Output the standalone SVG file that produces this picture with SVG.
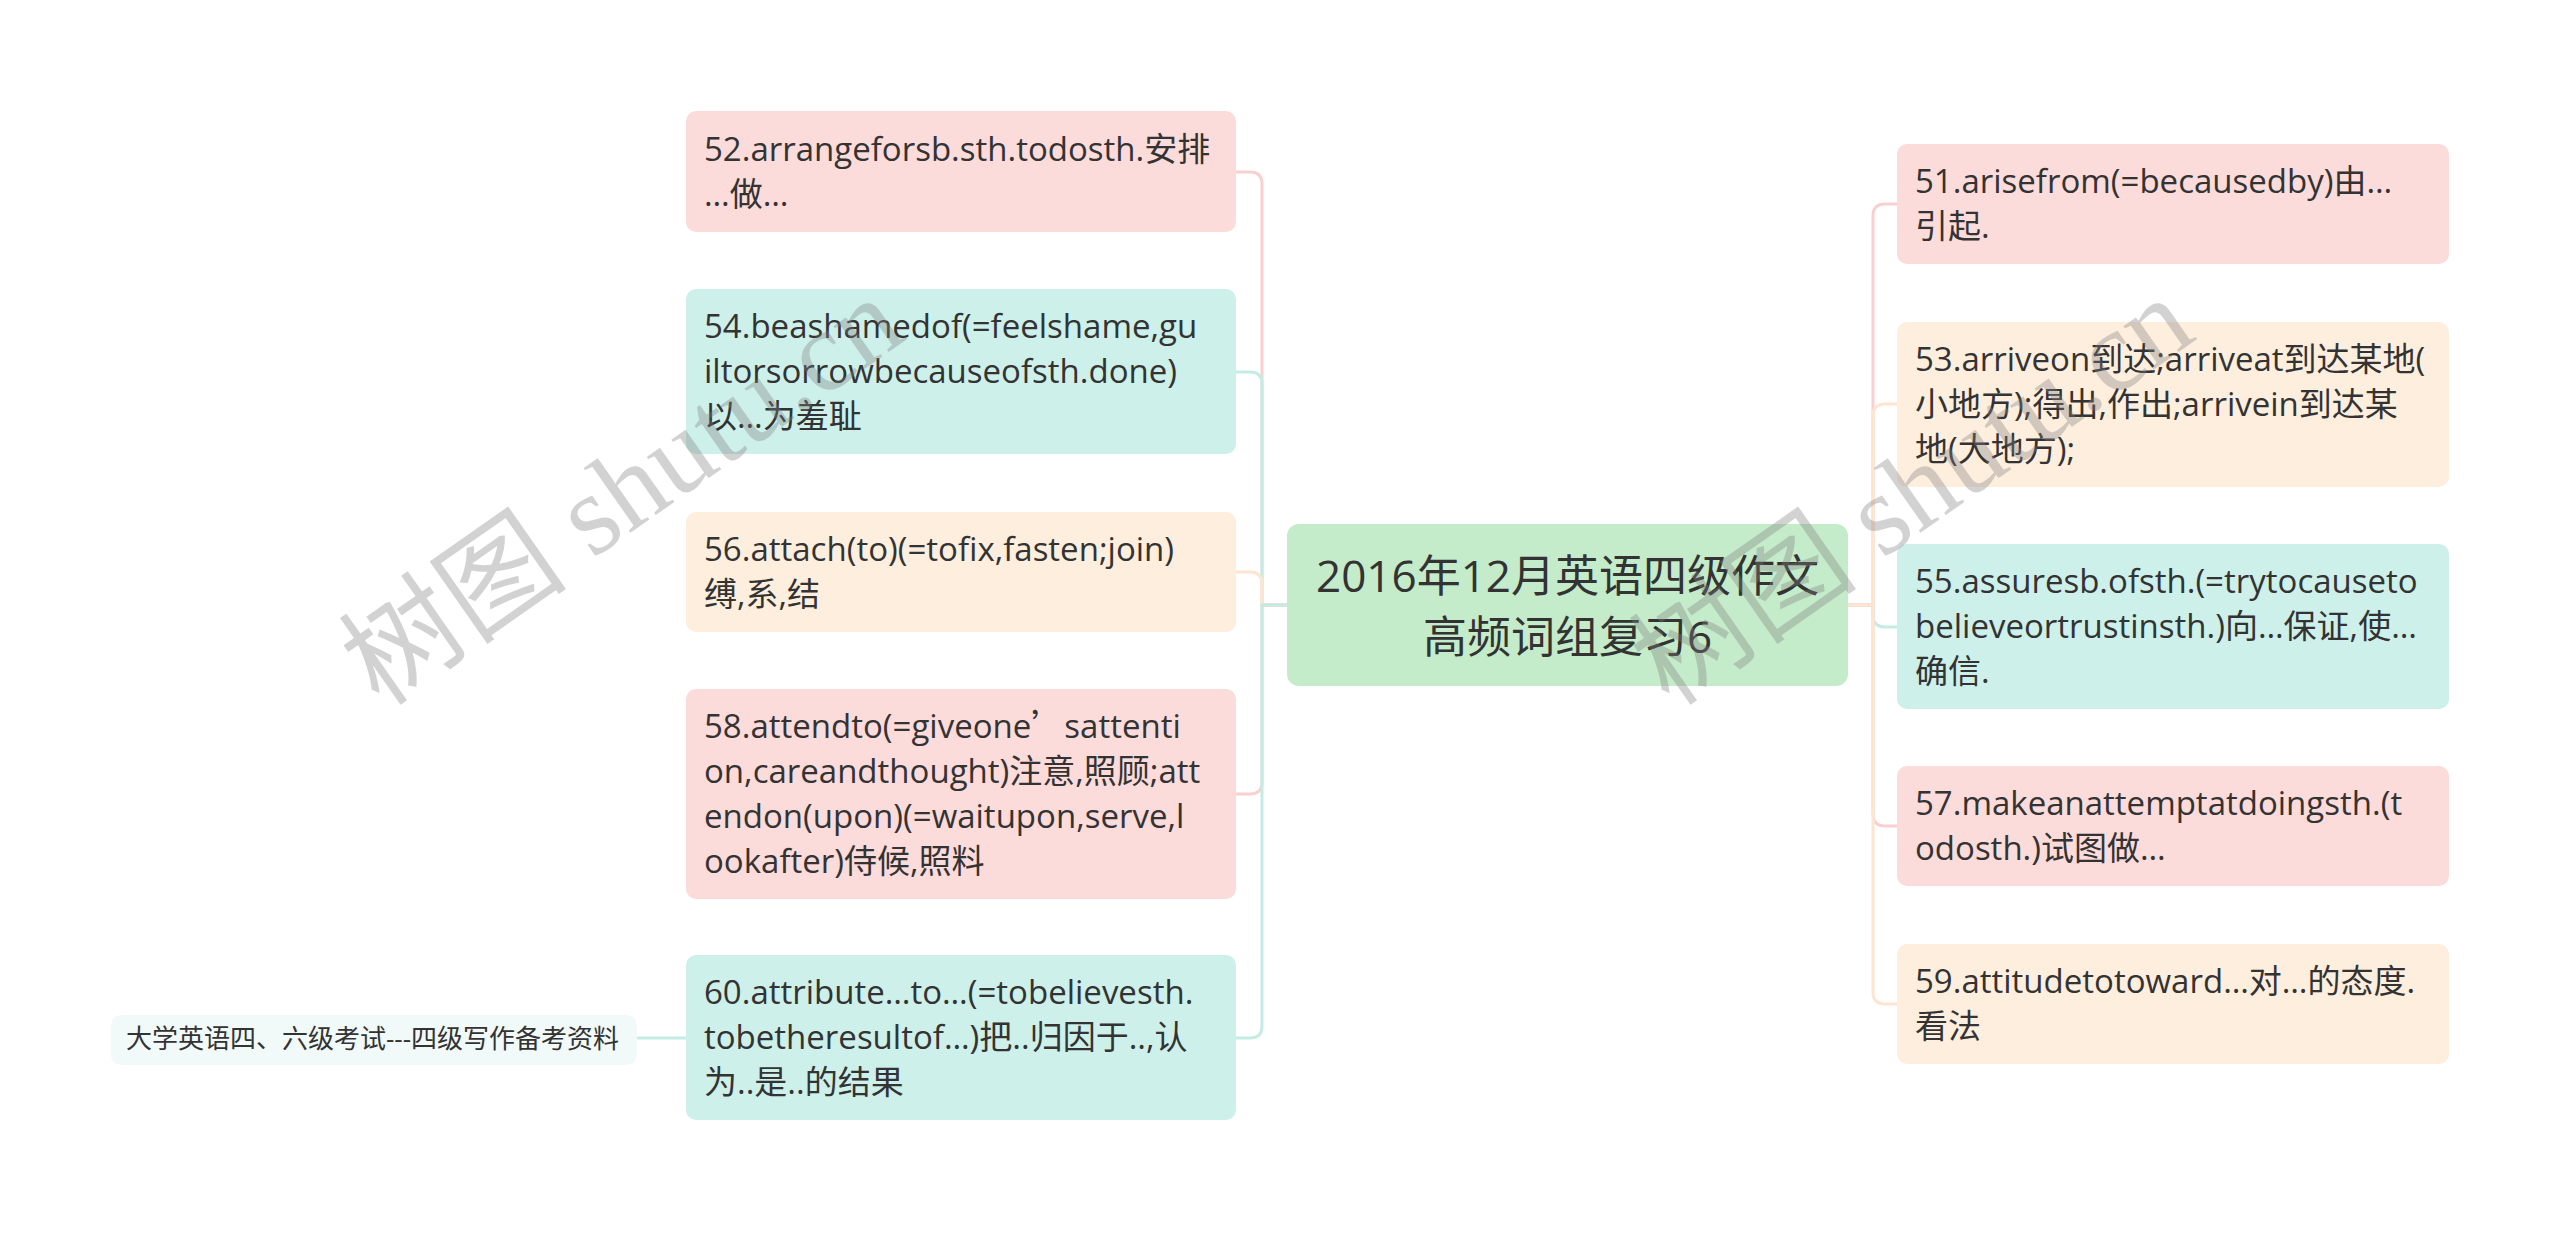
<svg xmlns="http://www.w3.org/2000/svg" width="2560" height="1233" viewBox="0 0 2560 1233">
<style>
.t{font-family:"Open Sans","Noto Sans CJK SC",sans-serif;font-size:33px;fill:#333333}
.tc{font-family:"Open Sans","Noto Sans CJK SC",sans-serif;font-size:44px;fill:#333333;text-anchor:middle}
.ts{font-family:"Open Sans","Noto Sans CJK SC",sans-serif;font-size:26px;fill:#333333}
.pink{fill:#fcdbdb}
.teal{fill:#cdf0ea}
.peach{fill:#feeede}
.green{fill:#c4ebca}
.pale{fill:#f1faf8}
.c{fill:none;stroke-width:3;stroke-linecap:round;stroke-linejoin:round}
.cp{stroke:#f8d0d0}
.ct{stroke:#c4ebe4}
.ce{stroke:#fde5cf}
.wm{font-family:"Liberation Serif","Noto Sans CJK SC",serif;font-size:115px;fill:#808080;opacity:0.35}
.cjk{font-family:"Noto Sans CJK SC",sans-serif}
</style>
<rect width="2560" height="1233" fill="#ffffff"/>
<g id="connectors">
<path class="c cp" d="M1287,605 H1262 V184 Q1262,172 1250,172 H1236"/>
<path class="c ct" d="M1287,605 H1262 V384 Q1262,372 1250,372 H1236"/>
<path class="c ce" d="M1287,605 H1262 V584 Q1262,572 1250,572 H1236"/>
<path class="c cp" d="M1287,605 H1262 V782 Q1262,794 1250,794 H1236"/>
<path class="c ct" d="M1287,605 H1262 V1026 Q1262,1038 1250,1038 H1236"/>
<path class="c ct" d="M686,1038 H637"/>
<path class="c cp" d="M1848,605 H1873 V216 Q1873,204 1885,204 H1897"/>
<path class="c ce" d="M1848,605 H1873 V416 Q1873,404 1885,404 H1897"/>
<path class="c ct" d="M1848,605 H1873 V615 Q1873,627 1885,627 H1897"/>
<path class="c cp" d="M1848,605 H1873 V814 Q1873,826 1885,826 H1897"/>
<path class="c ce" d="M1848,605 H1873 V992 Q1873,1004 1885,1004 H1897"/>
</g>
<g id="center">
<rect class="green" x="1287" y="524" width="561" height="162" rx="12"/>
<text class="tc" x="1567.5" y="592">2016年12月英语四级作文</text>
<text class="tc" x="1567.5" y="653">高频词组复习6</text>
</g>
<g id="n52">
<rect class="pink" x="686" y="111" width="550" height="121" rx="10"/>
<text class="t" x="704" y="161">52.arrangeforsb.sth.todosth.安排</text>
<text class="t" x="704" y="206">…做…</text>
</g>
<g id="n54">
<rect class="teal" x="686" y="289" width="550" height="165" rx="10"/>
<text class="t" x="704" y="338">54.beashamedof(=feelshame,gu</text>
<text class="t" x="704" y="383">iltorsorrowbecauseofsth.done)</text>
<text class="t" x="704" y="428">以…为羞耻</text>
</g>
<g id="n56">
<rect class="peach" x="686" y="512" width="550" height="120" rx="10"/>
<text class="t" x="704" y="561">56.attach(to)(=tofix,fasten;join)</text>
<text class="t" x="704" y="606">缚,系,结</text>
</g>
<g id="n58">
<rect class="pink" x="686" y="689" width="550" height="210" rx="10"/>
<text class="t" x="704" y="738">58.attendto(=giveone<tspan class="cjk">’</tspan>sattenti</text>
<text class="t" x="704" y="783">on,careandthought)注意,照顾;att</text>
<text class="t" x="704" y="828">endon(upon)(=waitupon,serve,l</text>
<text class="t" x="704" y="873">ookafter)侍候,照料</text>
</g>
<g id="n60">
<rect class="teal" x="686" y="955" width="550" height="165" rx="10"/>
<text class="t" x="704" y="1004">60.attribute…to…(=tobelievesth.</text>
<text class="t" x="704" y="1049">tobetheresultof…)把..归因于..,认</text>
<text class="t" x="704" y="1094">为..是..的结果</text>
</g>
<g id="n_ref">
<rect class="pale" x="111" y="1015" width="526" height="50" rx="10"/>
<text class="ts" x="126" y="1048">大学英语四、六级考试---四级写作备考资料</text>
</g>
<g id="n51">
<rect class="pink" x="1897" y="144" width="552" height="120" rx="10"/>
<text class="t" x="1915" y="193">51.arisefrom(=becausedby)由…</text>
<text class="t" x="1915" y="238">引起.</text>
</g>
<g id="n53">
<rect class="peach" x="1897" y="322" width="552" height="165" rx="10"/>
<text class="t" x="1915" y="371">53.arriveon到达;arriveat到达某地(</text>
<text class="t" x="1915" y="416">小地方);得出,作出;arrivein到达某</text>
<text class="t" x="1915" y="461">地(大地方);</text>
</g>
<g id="n55">
<rect class="teal" x="1897" y="544" width="552" height="165" rx="10"/>
<text class="t" x="1915" y="593">55.assuresb.ofsth.(=trytocauseto</text>
<text class="t" x="1915" y="638">believeortrustinsth.)向…保证,使…</text>
<text class="t" x="1915" y="683">确信.</text>
</g>
<g id="n57">
<rect class="pink" x="1897" y="766" width="552" height="120" rx="10"/>
<text class="t" x="1915" y="815">57.makeanattemptatdoingsth.(t</text>
<text class="t" x="1915" y="860">odosth.)试图做…</text>
</g>
<g id="n59">
<rect class="peach" x="1897" y="944" width="552" height="120" rx="10"/>
<text class="t" x="1915" y="993">59.attitudetotoward…对…的态度.</text>
<text class="t" x="1915" y="1038">看法</text>
</g>
<g id="watermarks">
<text class="wm" transform="translate(380,708) rotate(-35)">树图 shutu.cn</text>
<text class="wm" transform="translate(1670,708) rotate(-35)">树图 shutu.cn</text>
</g>
</svg>
